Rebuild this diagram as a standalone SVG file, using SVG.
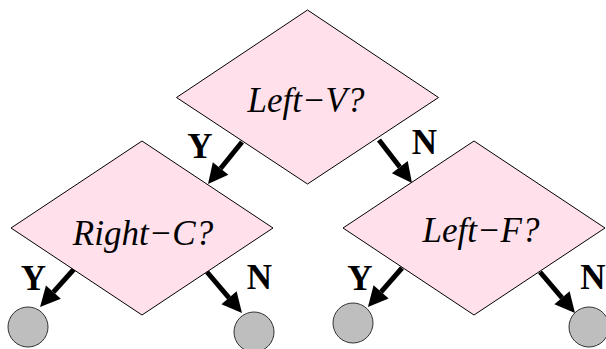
<svg xmlns="http://www.w3.org/2000/svg" width="606" height="349" viewBox="0 0 606 349">
<style>
.dia{fill:#ffe0eb;stroke:#000;stroke-width:1}
.leaf{fill:#bebebe;stroke:#333;stroke-width:1}
.q{font-style:italic;font-size:35px;text-anchor:middle;fill:#000}
.lab{font-weight:bold;font-size:35px;text-anchor:middle;fill:#000}
.arr{stroke:#000;stroke-width:5;fill:none;marker-end:url(#ah)}
</style>
<defs>
<marker id="ah" markerUnits="userSpaceOnUse" orient="auto" refX="0" refY="0" markerWidth="22" markerHeight="22" viewBox="0 -11 22 22" overflow="visible">
<path d="M0,-10 L20,0 L0,10 z" fill="#000"/>
</marker>
</defs>
<rect width="606" height="349" fill="#fff"/>
<g id="connectors">
<line class="arr" x1="242" y1="142" x2="220.6" y2="168.5"/>
<line class="arr" x1="379" y1="140" x2="399.8" y2="167.1"/>
<line class="arr" x1="75" y1="268" x2="53.4" y2="292.1"/>
<line class="arr" x1="207" y1="272" x2="229" y2="297.8"/>
<line class="arr" x1="402" y1="268" x2="381.1" y2="291.9"/>
<line class="arr" x1="540" y1="272" x2="562" y2="297.8"/>
<text class="lab" font-family="Liberation Serif, Times New Roman, serif" x="200" y="158">Y</text>
<text class="lab" font-family="Liberation Serif, Times New Roman, serif" x="424.5" y="154">N</text>
<text class="lab" font-family="Liberation Serif, Times New Roman, serif" x="33.5" y="290">Y</text>
<text class="lab" font-family="Liberation Serif, Times New Roman, serif" x="259.5" y="289">N</text>
<text class="lab" font-family="Liberation Serif, Times New Roman, serif" x="360" y="290">Y</text>
<text class="lab" font-family="Liberation Serif, Times New Roman, serif" x="593" y="289">N</text>
</g>
<g id="leftV">
<polygon class="dia" points="307.5,10 438.5,97.5 307.5,184 176.5,97.5"/>
<text class="q" font-family="Liberation Serif, Times New Roman, serif" x="306" y="111.5">Left−V?</text>
</g>
<g id="rightC">
<polygon class="dia" points="142,141 273,228 142,315 11,228"/>
<text class="q" font-family="Liberation Serif, Times New Roman, serif" x="143" y="245">Right−C?</text>
</g>
<g id="leftF">
<polygon class="dia" points="474,141 605,228 474,315 343,228"/>
<text class="q" font-family="Liberation Serif, Times New Roman, serif" x="481" y="242">Left−F?</text>
</g>
<g id="leaf1"><circle class="leaf" cx="28" cy="327" r="20"/></g>
<g id="leaf2"><circle class="leaf" cx="254" cy="332" r="20"/></g>
<g id="leaf3"><circle class="leaf" cx="353" cy="323" r="20"/></g>
<g id="leaf4"><circle class="leaf" cx="589" cy="327" r="20"/></g>
</svg>
